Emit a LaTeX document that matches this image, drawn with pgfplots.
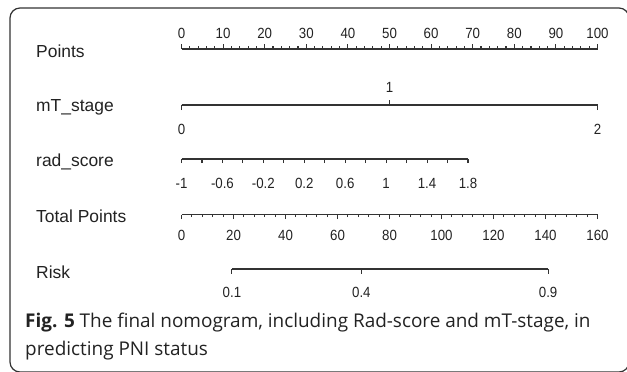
\documentclass[border=0pt]{standalone}
\usepackage{fontspec}
\setmainfont{Liberation Sans}
\newfontfamily\capfont{Open Sans}
\usepackage{pgfplots}
\pgfplotsset{compat=1.18}
\definecolor{ln}{HTML}{333333}
\definecolor{tx}{HTML}{222222}
\pgfplotsset{
  nomo/.style={
    scale only axis, height=10bp, ymin=0, ymax=1,
    hide y axis,
    axis line style={ln, line width=1.2bp},
    every tick/.style={ln, line width=1.1bp},
    tick align=outside,
    major tick length=5bp, minor tick length=3bp,
    xticklabel style={font=\fontsize{14.8}{14.8}\selectfont, text=tx, anchor=center, inner sep=0pt, xscale=0.9},
    clip=false,
  },
}
\begin{document}
\begin{tikzpicture}[x=1bp,y=1bp]
\useasboundingbox (0,0) rectangle (627,-371);
\draw[ln, line width=1.2bp, rounded corners=10bp] (10,-8) rectangle (629,-372);
% labels
\begin{scope}[every node/.style={anchor=base west, inner sep=0pt, text=tx, font=\fontsize{17.5}{17.5}\selectfont}]
\node at (36,-57) {Points};
\node at (36,-111) {mT\_stage};
\node at (36,-166) {rad\_score};
\node at (36,-222.5) {Total Points};
\node at (36,-278) {Risk};
\end{scope}
% Points
\begin{axis}[nomo, axis x line*=top, at={(181.5bp,-49bp)}, anchor=north west,
  width=416bp, xmin=0, xmax=100,
  xtick={0,10,20,30,40,50,60,70,80,90,100},
  xticklabels={0,10,20,30,40,50,60,70,80,90,100},
  minor xtick={0,2,...,100},
  xticklabel style={yshift=11bp}]
\addplot[draw=none] coordinates {(0,1) (100,1)};
\end{axis}
% mT_stage bottom ticks
\begin{axis}[nomo, axis x line*=bottom, at={(181.5bp,-105bp)}, anchor=south west,
  width=416bp, xmin=0, xmax=2,
  xtick={0,2}, xticklabels={0,2},
  xticklabel style={yshift=-19bp}]
\addplot[draw=none] coordinates {(0,0) (2,0)};
\end{axis}
% mT_stage top tick
\begin{axis}[nomo, axis x line*=top, at={(181.5bp,-105bp)}, anchor=north west,
  width=416bp, xmin=0, xmax=2,
  xtick={1}, xticklabels={1},
  xticklabel style={yshift=13bp}]
\addplot[draw=none] coordinates {(0,1) (2,1)};
\end{axis}
% rad_score
\begin{axis}[nomo, axis x line*=bottom, at={(181.5bp,-159bp)}, anchor=south west,
  width=286.5bp, xmin=-1, xmax=1.8,
  major tick length=4bp,
  xtick={-1,-0.8,-0.6,-0.4,-0.2,0,0.2,0.4,0.6,0.8,1,1.2,1.4,1.6,1.8},
  xticklabels={-1,,-0.6,,-0.2,,0.2,,0.6,,1,,1.4,,1.8},
  xticklabel style={yshift=-20bp}]
\addplot[draw=none] coordinates {(-1,0) (1.8,0)};
\end{axis}
% Total Points
\begin{axis}[nomo, axis x line*=bottom, at={(181.5bp,-214.5bp)}, anchor=south west,
  width=416bp, xmin=0, xmax=160,
  major tick length=4.5bp, minor tick length=2.7bp,
  xtick={0,20,40,60,80,100,120,140,160},
  xticklabels={0,20,40,60,80,100,120,140,160},
  minor xtick={0,4,...,160},
  xticklabel style={yshift=-16.5bp}]
\addplot[draw=none] coordinates {(0,0) (160,0)};
\end{axis}
% Risk (positions in total points)
\begin{axis}[nomo, axis x line*=bottom, at={(231.9bp,-269bp)}, anchor=south west,
  width=316.2bp, xmin=19.4, xmax=141,
  major tick length=4.5bp,
  xtick={19.4,69.2,141}, xticklabels={0.1,0.4,0.9},
  xticklabel style={yshift=-19bp}]
\addplot[draw=none] coordinates {(19.4,0) (141,0)};
\end{axis}
% caption
\node[anchor=base west, inner sep=0pt, text=tx, font=\capfont\fontsize{19}{19}\selectfont] at (25,-327) {\textbf{Fig. 5} The final nomogram, including Rad-score and mT-stage, in};
\node[anchor=base west, inner sep=0pt, text=tx, font=\capfont\fontsize{19}{19}\selectfont] at (25,-355) {predicting PNI status};
\end{tikzpicture}
\end{document}
